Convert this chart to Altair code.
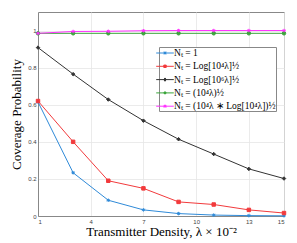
import altair as alt
import pandas as pd

x_vals = [1, 3, 5, 7, 9, 11, 13, 15]
y_blue = [0.615, 0.233, 0.085, 0.033, 0.013, 0.005, 0.002, 0.001]
y_red = [0.62, 0.40, 0.19, 0.149, 0.076, 0.062, 0.033, 0.016]
y_black = [0.908, 0.765, 0.628, 0.514, 0.414, 0.334, 0.254, 0.202]
y_green = [0.985, 0.985, 0.985, 0.985, 0.985, 0.985, 0.985, 0.985]
y_magenta = [0.985, 0.995, 0.996, 0.999, 1.0, 1.0, 1.0, 1.0]

series_names = [
    "Nₜ = 1",
    "Nₜ = Log[10⁴λ]½",
    "Nₜ = Log[10⁶λ]½",
    "Nₜ = (10⁴λ)½",
    "Nₜ = (10⁴λ ∗ Log[10⁴λ])½",
]
series_values = [y_blue, y_red, y_black, y_green, y_magenta]
colors = ["#2F8AD8", "#F23A3C", "#333333", "#3AA53A", "#FF30FF"]

x_ticks = [1, 4, 7, 10, 13, 15]
y_ticks = [0, 0.2, 0.4, 0.6, 0.8, 1]

# marker shapes on the plot
marker_shapes = [
    "M-1,0H1M0,-1V1M-0.7,-0.7L0.7,0.7M-0.7,0.7L0.7,-0.7",
    "square",
    "diamond",
    "circle",
    "M-1,0H1M0,-1V1M-0.7,-0.7L0.7,0.7M-0.7,0.7L0.7,-0.7",
]
# legend symbols: line with marker
legend_shapes = [
    "M-1.6,0H1.6M-0.3,0H0.3M0,-0.3V0.3M-0.22,-0.22L0.22,0.22M-0.22,0.22L0.22,-0.22",
    "M-1.6,0H1.6M-0.22,-0.22H0.22V0.22H-0.22Z",
    "M-1.6,0H1.6M0,-0.3L0.22,0L0,0.3L-0.22,0Z",
    "M-1.6,0H1.6M0.2,0A0.2,0.2 0 1,1 -0.2,0A0.2,0.2 0 1,1 0.2,0",
    "M-1.6,0H1.6M-0.3,0H0.3M0,-0.3V0.3M-0.22,-0.22L0.22,0.22M-0.22,0.22L0.22,-0.22",
]

rows = []
for name, vals in zip(series_names, series_values):
    for xv, yv in zip(x_vals, vals):
        rows.append({"x": xv, "y": yv, "series": name})
df = pd.DataFrame(rows)

xenc = alt.X(
    "x:Q",
    scale=alt.Scale(domain=[1, 15], nice=False, zero=False),
    axis=alt.Axis(values=x_ticks, title="Transmitter Density, λ × 10⁻²"),
)
yenc = alt.Y(
    "y:Q",
    scale=alt.Scale(domain=[0, 1.1], nice=False),
    axis=alt.Axis(values=y_ticks, format="~g", title="Coverage Probability"),
)

base = alt.Chart(df)
layers = []
for name, col, shp in zip(series_names, colors, marker_shapes):
    sub = base.transform_filter(alt.datum.series == name)
    layers.append(sub.mark_line(color=col, strokeWidth=1).encode(x=xenc, y=yenc))
for name, col, shp in zip(series_names, colors, marker_shapes):
    sub = base.transform_filter(alt.datum.series == name)
    layers.append(
        sub.mark_point(shape=shp, color=col, fill=col, filled=False, size=12, strokeWidth=1, opacity=1).encode(
            x=xenc, y=yenc
        )
    )

leg = alt.Legend(
    orient="none",
    legendX=121,
    legendY=35,
    title=None,
    strokeColor="#888888",
    fillColor="white",
    padding=0,
    symbolSize=121,
    symbolStrokeWidth=1,
    symbolOffset=0,
    labelOffset=3,
    rowPadding=2.3,
    labelFont="Liberation Serif",
    labelFontSize=9.5,
    labelColor="black",
    labelLimit=300,
    symbolOpacity=1,
)
legend_layer = base.mark_point(opacity=0, filled=False).encode(
    x=xenc,
    y=yenc,
    color=alt.Color("series:N", scale=alt.Scale(domain=series_names, range=colors), legend=leg),
    fill=alt.Fill("series:N", scale=alt.Scale(domain=series_names, range=colors), legend=leg),
    shape=alt.Shape("series:N", scale=alt.Scale(domain=series_names, range=legend_shapes), legend=leg),
)
layers.append(legend_layer)

chart = (
    alt.layer(*layers)
    .properties(
        width=246,
        height=204,
        autosize=alt.AutoSizeParams(type="none"),
        padding={"left": 30, "top": 4, "right": 5, "bottom": 27},
    )
    .configure_view(stroke="#888888", strokeWidth=1)
    .configure_axis(
        grid=True,
        gridColor="#e6e6e6",
        gridWidth=0.8,
        domainColor="#888888",
        domainWidth=1,
        ticks=False,
        labelFont="Liberation Sans",
        labelFontSize=6,
        labelColor="#444444",
        labelPadding=2,
        titleFont="Liberation Serif",
        titleFontSize=13,
        titleFontWeight="normal",
        titleColor="black",
    )
    .configure_axisY(titlePadding=4)
    .configure_axisX(titlePadding=1)
)

chart.save("out.html", embed_options={"renderer": "svg", "actions": False})
